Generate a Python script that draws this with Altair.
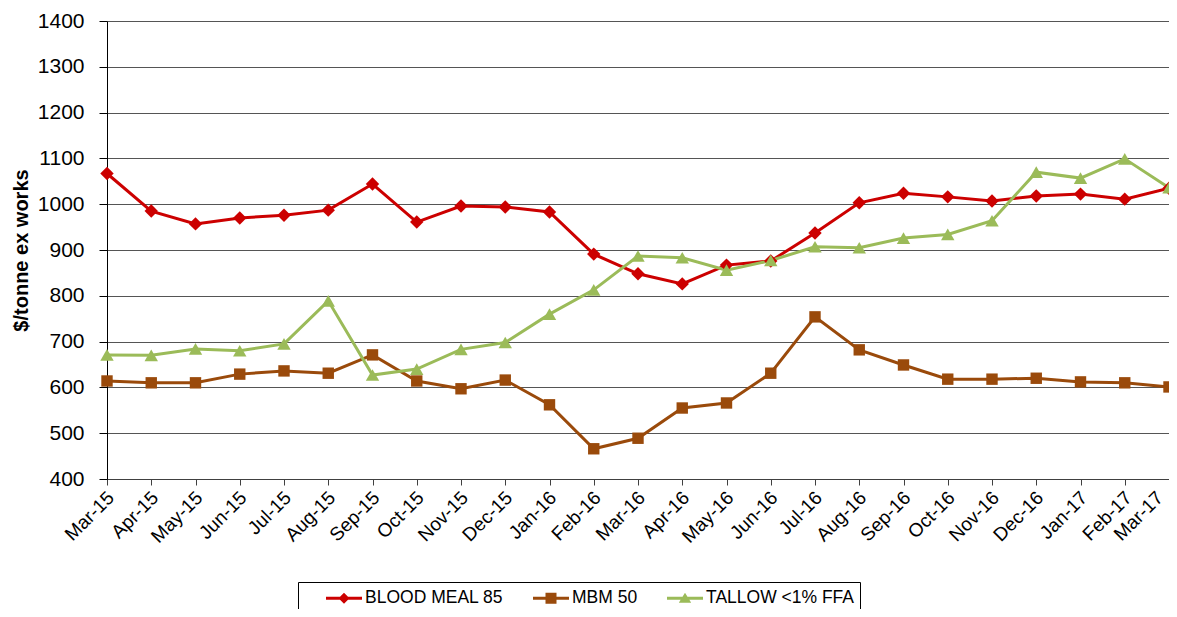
import altair as alt
import pandas as pd

months = ["Mar-15", "Apr-15", "May-15", "Jun-15", "Jul-15", "Aug-15", "Sep-15",
          "Oct-15", "Nov-15", "Dec-15", "Jan-16", "Feb-16", "Mar-16", "Apr-16",
          "May-16", "Jun-16", "Jul-16", "Aug-16", "Sep-16", "Oct-16", "Nov-16",
          "Dec-16", "Jan-17", "Feb-17", "Mar-17"]

blood_meal = [1067, 985, 957, 970, 976, 987, 1044, 961, 996, 994, 983, 891, 848,
              826, 867, 876, 937, 1003, 1024, 1016, 1007, 1018, 1022, 1011, 1035]
mbm = [614, 610, 610, 629, 636, 631, 671, 614, 597, 616, 562, 466, 489,
       555, 566, 631, 754, 682, 649, 618, 618, 620, 612, 610, 601]
tallow = [671, 670, 684, 680, 695, 789, 627, 640, 683, 698, 760, 813, 887,
          883, 856, 877, 907, 905, 926, 934, 964, 1070, 1057, 1099, 1036]

series = ["BLOOD MEAL 85", "MBM 50", "TALLOW <1% FFA"]
colors = ["#CC0000", "#9A4A0B", "#9BBB59"]
shapes = ["diamond", "square", "triangle-up"]
legend_paths = [
    "M-1.8,-0.15H1.8V0.15H-1.8Z M0,-0.55L0.55,0L0,0.55L-0.55,0Z",
    "M-1.8,-0.15H1.8V0.15H-1.8Z M-0.55,-0.55H0.55V0.55H-0.55Z",
    "M-1.8,-0.15H1.8V0.15H-1.8Z M0,-0.55L0.62,0.45H-0.62Z",
]

rows = []
for name, vals in zip(series, [blood_meal, mbm, tallow]):
    for m, v in zip(months, vals):
        rows.append({"month": m, "series": name, "value": v})
df = pd.DataFrame(rows)

FONT = "Liberation Sans"

shape_expr = (f"datum.value === '{series[0]}' ? '{legend_paths[0]}' : "
              f"(datum.value === '{series[1]}' ? '{legend_paths[1]}' : '{legend_paths[2]}')")
label_expr = (f"datum.label === '{series[2]}' ? datum.label + '\u00a0\u00a0\u00a0\u00a0' : datum.label")

x = alt.X("month:N", sort=months, title=None,
          scale=alt.Scale(type="point", padding=0),
          axis=alt.Axis(labelAngle=-45, labelFont=FONT, labelFontSize=19,
                        labelColor="black", tickColor="#404040", tickSize=6,
                        domainColor="#404040", labelPadding=3,
                        labelOffset={"condition": {"test": f"datum.value === '{months[-1]}'",
                                                   "value": -16},
                                     "value": -3},
                        grid=False))
y = alt.Y("value:Q", title="$/tonne ex works",
          scale=alt.Scale(domain=[400, 1400], nice=False),
          axis=alt.Axis(values=list(range(400, 1401, 100)), format="d",
                        labelFont=FONT, labelFontSize=21, labelColor="black",
                        tickColor="black", tickSize=8, labelPadding=15,
                        domainColor="black", gridColor="#555555", gridWidth=1,
                        titleFont=FONT, titleFontSize=20, titleFontWeight="bold",
                        titleColor="black", titleX=-76))
color_scale = alt.Scale(domain=series, range=colors)

legend = alt.Legend(
    orient="none", legendX=191, legendY=561, direction="horizontal",
    strokeColor="black", fillColor="white", padding=6, labelFont=FONT,
    labelFontSize=17.5, labelColor="black", columnPadding=7, labelOffset=11,
    symbolOffset=30, labelExpr=label_expr,
    symbolSize=400, symbolStrokeWidth=0, symbolOpacity=1, title=None,
    symbolType=alt.ExprRef(expr=shape_expr),
    symbolFillColor=alt.ExprRef(expr="scale('color', datum.value)"))

base = alt.Chart(df)

lines = base.mark_line(strokeWidth=3).encode(
    x=x, y=y, color=alt.Color("series:N", scale=color_scale, legend=legend))

point_layers = []
for name, col, shp in zip(series, colors, shapes):
    sz = 130 if shp == "square" else 180
    point_layers.append(
        base.transform_filter(alt.datum.series == name)
        .mark_point(filled=True, opacity=1, shape=shp, size=sz, color=col)
        .encode(x=x, y=y))

chart = alt.layer(lines, *point_layers).properties(
    width=1062, height=458,
    padding={"left": 99, "top": 13, "right": 0, "bottom": 130},
    autosize=alt.AutoSizeParams(type="none"),
).configure_view(stroke="#808080", strokeWidth=1.5).configure(background="white")

chart.save("out.html", embed_options={"renderer": "svg", "actions": False})
